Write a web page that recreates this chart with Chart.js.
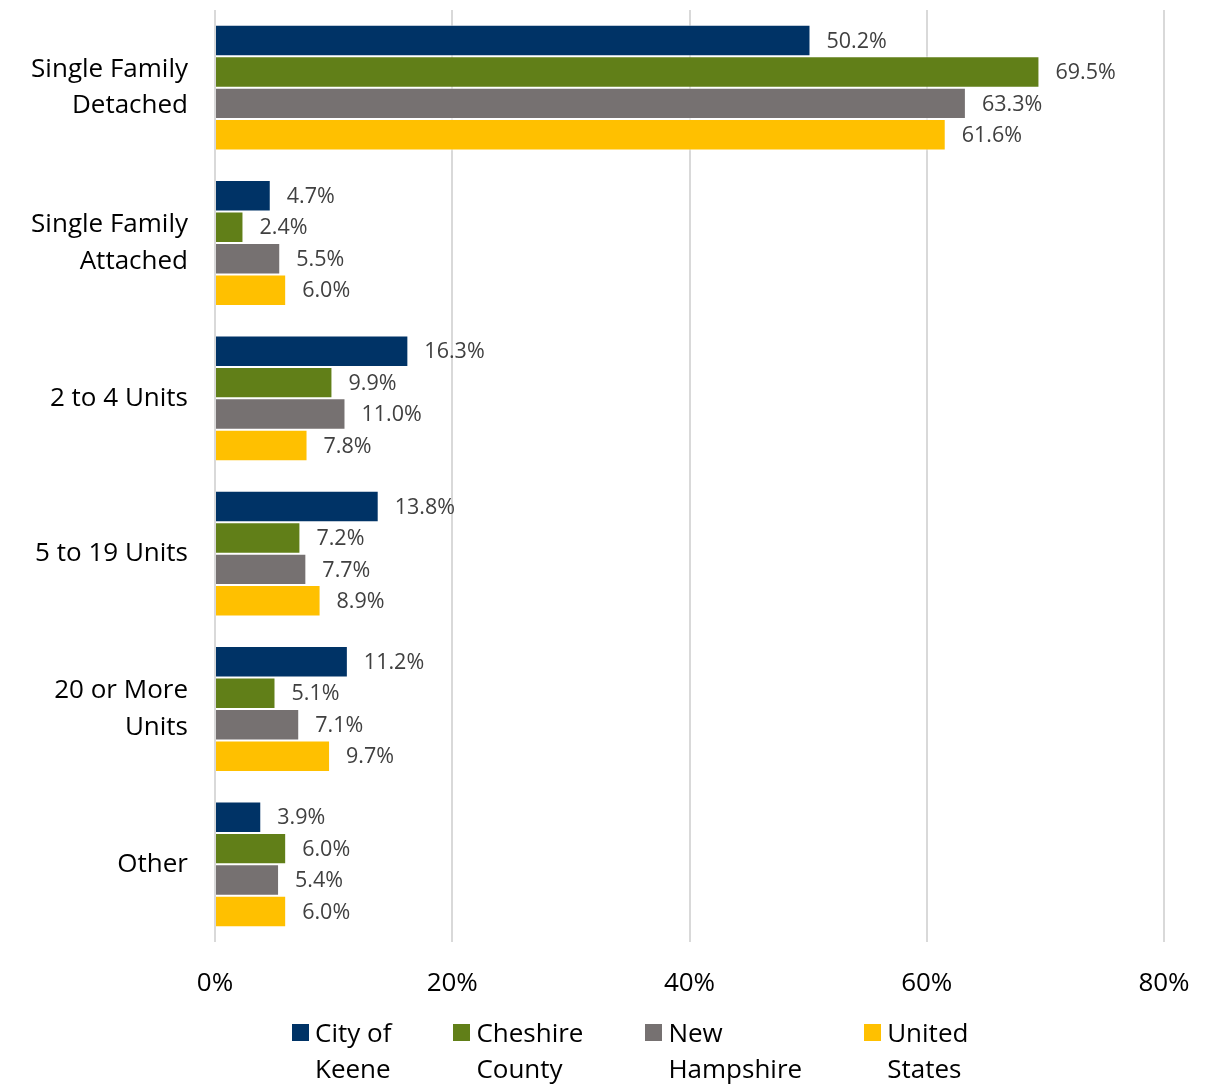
<!DOCTYPE html>
<html>
<head>
<meta charset="utf-8">
<script src="https://cdn.jsdelivr.net/npm/chart.js@4"></script>
<style>
  body { margin: 0; background: #fff; }
  #wrap { position: relative; width: 1209px; height: 1085px; }
  #legend { position: absolute; left: 292px; top: 1014px; display: flex; gap: 62px;
    font-family: 'Open Sans', sans-serif; font-size: 26px; line-height: 36px; color: #000; }
  .item { display: flex; align-items: flex-start; }
  .box { width: 17px; height: 17px; margin-top: 10px; margin-right: 6px; }
</style>
</head>
<body>
<div id="wrap">
  <canvas id="chart" width="1209" height="1085"></canvas>
  <div id="legend"></div>
</div>
<script>
const categories = [
    ['Single Family', 'Detached'],
    ['Single Family', 'Attached'],
    '2 to 4 Units',
    '5 to 19 Units',
    ['20 or More', 'Units'],
    'Other'
]
const seriesNames = [['City of', 'Keene'], ['Cheshire', 'County'], ['New', 'Hampshire'], ['United', 'States']]
const seriesColors = ['#003366', '#617F18', '#767171', '#FFC000']

const keene = [50.2, 4.7, 16.3, 13.8, 11.2, 3.9]
const cheshire = [69.5, 2.4, 9.9, 7.2, 5.1, 6.0]
const newHampshire = [63.3, 5.5, 11.0, 7.7, 7.1, 5.4]
const unitedStates = [61.6, 6.0, 7.8, 8.9, 9.7, 6.0]

const xTicks = [0, 20, 40, 60, 80]

const seriesValues = [keene, cheshire, newHampshire, unitedStates]

// value labels at the end of each bar
const barLabels = {
    id: 'barLabels',
    afterDatasetsDraw(chart) {
        const ctx = chart.ctx
        ctx.save()
        ctx.font = "21.5px 'Open Sans', sans-serif"
        ctx.fillStyle = '#404040'
        ctx.textAlign = 'left'
        ctx.textBaseline = 'middle'
        chart.data.datasets.forEach((ds, i) => {
            chart.getDatasetMeta(i).data.forEach((bar, j) => {
                ctx.fillText(ds.data[j].toFixed(1) + '%', bar.x + 16, bar.y + 1)
            })
        })
        ctx.restore()
    }
}

const datasets = seriesValues.map((vals, i) => ({
    label: seriesNames[i].join(' '),
    data: vals,
    backgroundColor: seriesColors[i],
    borderColor: 'rgba(255,255,255,0.6)',
    borderWidth: 1,
    categoryPercentage: 0.81,
    barPercentage: 1.0
}))

Chart.defaults.font.family = "'Open Sans', sans-serif"

const noPad = s => { s.paddingTop = 0; s.paddingBottom = 0; s.paddingLeft = 0; s.paddingRight = 0 }

new Chart(document.getElementById('chart'), {
    type: 'bar',
    data: { labels: categories, datasets: datasets },
    options: {
        indexAxis: 'y',
        responsive: false,
        animation: false,
        layout: { padding: { top: 10, right: 45, left: 0, bottom: 0 } },
        plugins: { legend: { display: false }, tooltip: { enabled: false } },
        scales: {
            x: {
                min: 0,
                max: 80,
                afterFit: s => { s.height = 143; noPad(s) },
                afterBuildTicks: s => { s.ticks = xTicks.map(v => ({ value: v })) },
                ticks: { callback: v => v + '%', color: '#000', font: { size: 26 }, padding: 26 },
                grid: { color: '#d9d9d9', lineWidth: 2, drawTicks: false },
                border: { display: false }
            },
            y: {
                afterFit: s => { s.width = 215; noPad(s) },
                ticks: { color: '#000', font: { size: 26, lineHeight: 1.4 }, padding: 19 },
                grid: { display: false },
                border: { display: false }
            }
        }
    },
    plugins: [barLabels]
})

// legend with two-line names
const legend = document.getElementById('legend')
seriesNames.forEach((name, i) => {
    const item = document.createElement('div')
    item.className = 'item'
    const box = document.createElement('div')
    box.className = 'box'
    box.style.background = seriesColors[i]
    const text = document.createElement('div')
    text.innerHTML = name.join('<br>')
    item.appendChild(box)
    item.appendChild(text)
    legend.appendChild(item)
})
</script>
</body>
</html>
